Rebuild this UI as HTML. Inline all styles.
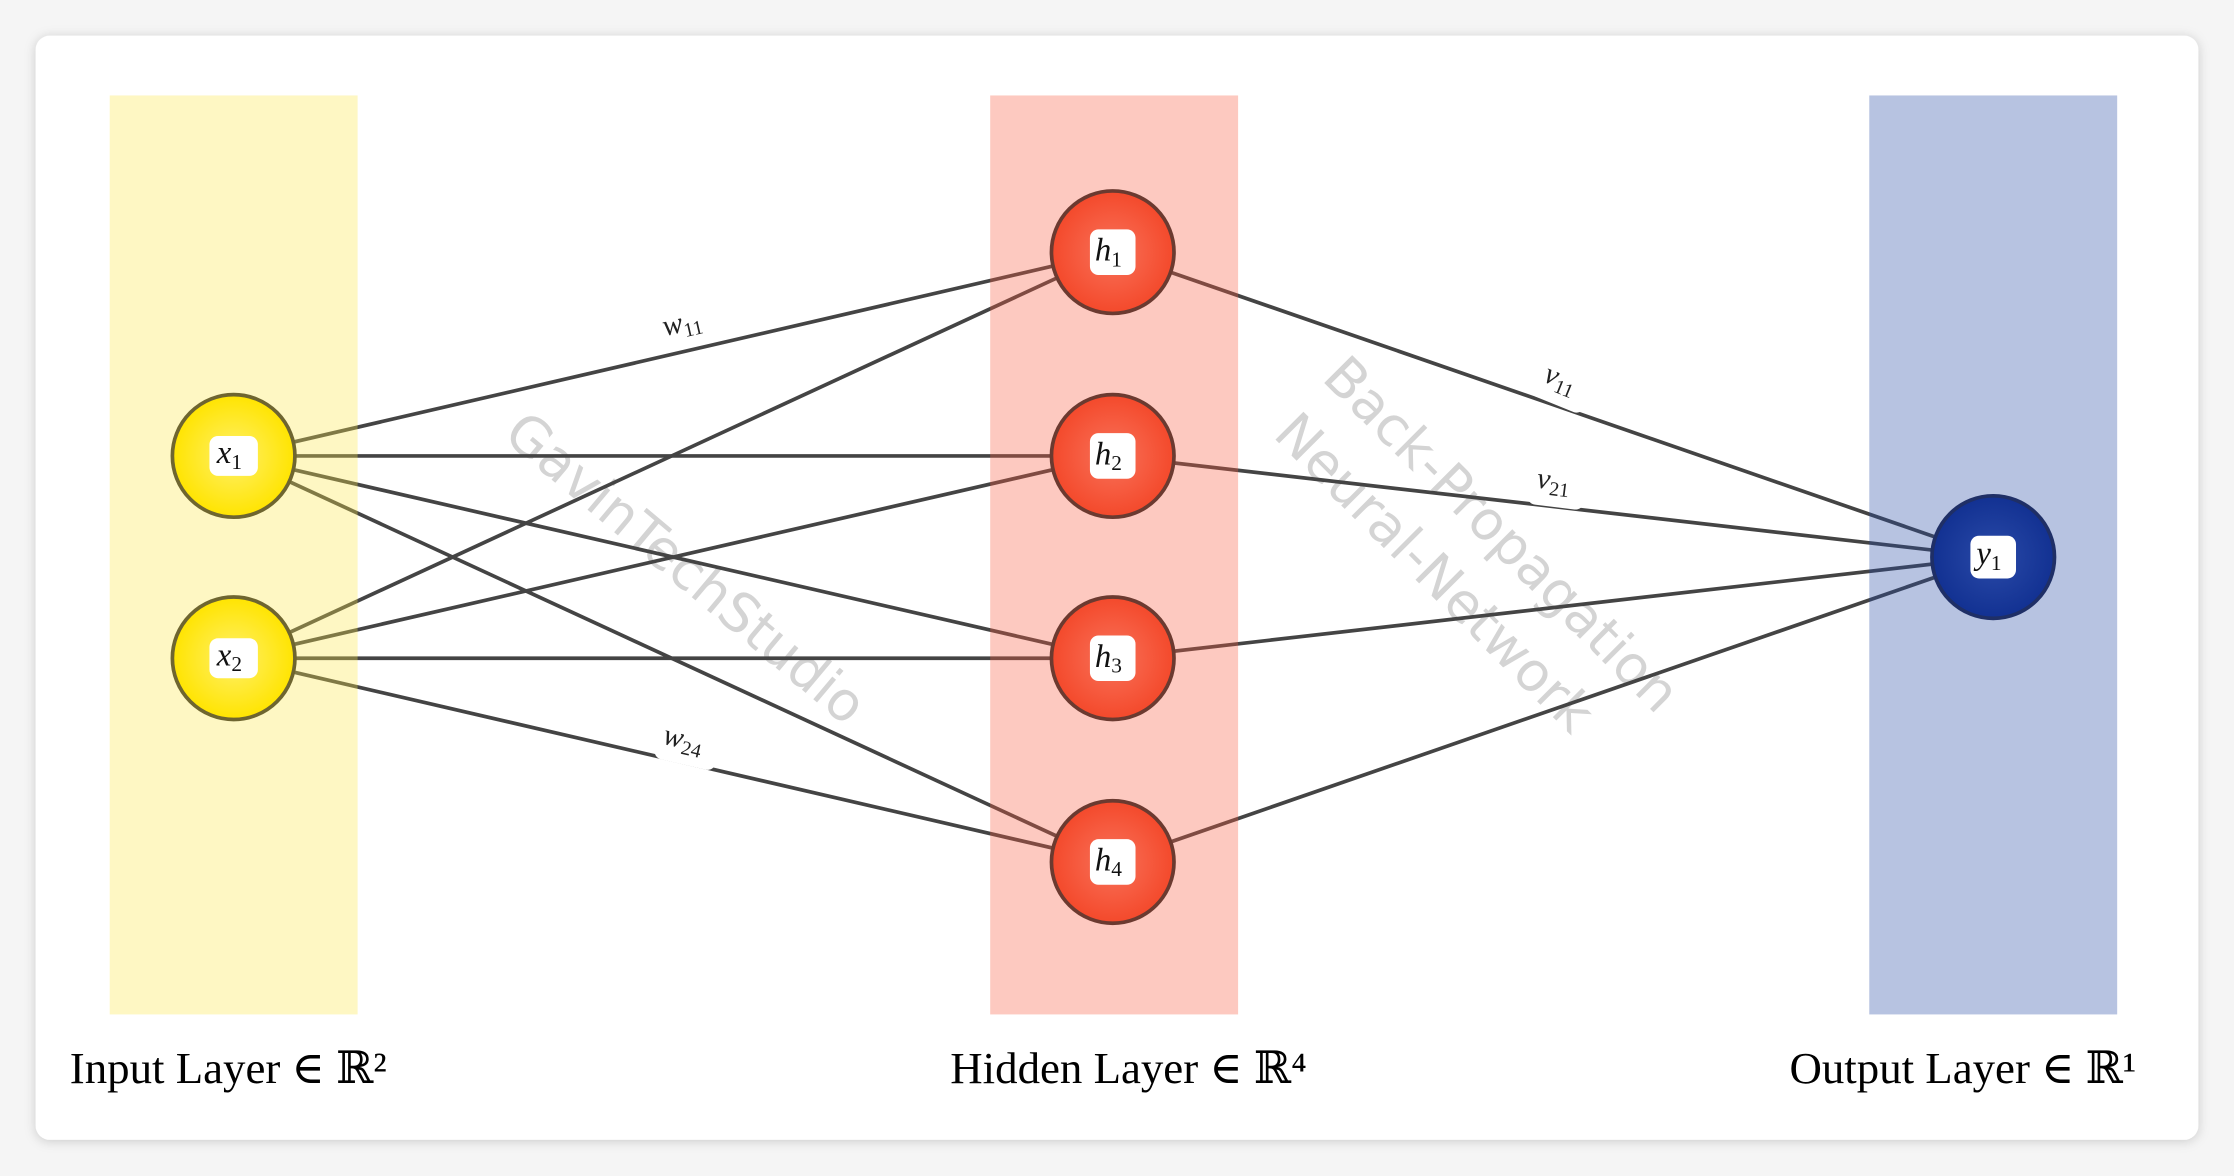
<!DOCTYPE html>
<html><head><meta charset="utf-8"><style>
html,body{margin:0;padding:0;background:#f5f5f5;}
svg{display:block;}
</style></head><body>
<svg width="2234" height="1176" viewBox="0 0 1568 825.4" preserveAspectRatio="none" xmlns="http://www.w3.org/2000/svg">
<defs>
<radialGradient id="gy" cx="50%" cy="50%" r="50%"><stop offset="0" stop-color="#fff06a"/><stop offset="1" stop-color="#ffe400"/></radialGradient>
<radialGradient id="gr" cx="50%" cy="50%" r="50%"><stop offset="0" stop-color="#f8725a"/><stop offset="1" stop-color="#f4492b"/></radialGradient>
<radialGradient id="gb" cx="50%" cy="50%" r="50%"><stop offset="0" stop-color="#2a4aa8"/><stop offset="1" stop-color="#123192"/></radialGradient>
<filter id="sh" x="-5%" y="-5%" width="110%" height="110%"><feDropShadow dx="0" dy="1" stdDeviation="4" flood-color="#000" flood-opacity="0.18"/></filter>
</defs>
<rect x="0" y="0" width="1568" height="825.4" fill="#f5f5f5"/>
<rect x="25" y="25" width="1518" height="775" rx="10" fill="#fff" filter="url(#sh)"/>
<g font-family="'DejaVu Sans','Liberation Sans',sans-serif" fill="#d4d4d4" font-size="38">
<text x="482" y="412" text-anchor="middle" transform="rotate(40 482 398)">GavinTechStudio</text>
<text x="1054" y="388" text-anchor="middle" transform="rotate(45 1054 375)">Back-Propagation</text>
<text x="1007" y="415" text-anchor="middle" transform="rotate(45 1007 402)">Neural-Network</text>
</g>
<g stroke="#444" stroke-width="2.6">
<line x1="164" y1="320" x2="781" y2="177"/>
<line x1="164" y1="320" x2="781" y2="320"/>
<line x1="164" y1="320" x2="781" y2="462"/>
<line x1="164" y1="320" x2="781" y2="605"/>
<line x1="164" y1="462" x2="781" y2="177"/>
<line x1="164" y1="462" x2="781" y2="320"/>
<line x1="164" y1="462" x2="781" y2="462"/>
<line x1="164" y1="462" x2="781" y2="605"/>
<line x1="781" y1="177" x2="1399" y2="391"/>
<line x1="781" y1="320" x2="1399" y2="391"/>
<line x1="781" y1="462" x2="1399" y2="391"/>
<line x1="781" y1="605" x2="1399" y2="391"/>
</g>
<rect x="77" y="67" width="174" height="645" fill="rgb(252,230,73)" fill-opacity="0.33"/>
<rect x="695" y="67" width="174" height="645" fill="rgb(250,91,64)" fill-opacity="0.33"/>
<rect x="1312" y="67" width="174" height="645" fill="rgb(37,73,164)" fill-opacity="0.33"/>
<g font-family="'Liberation Serif',serif" font-style="italic" font-size="21" fill="#222">
<g transform="translate(483,228) rotate(-13)"><rect x="-22" y="-15" width="44" height="30" rx="6" fill="#fff"/><text x="-4" y="4" text-anchor="middle">w<tspan font-style="normal" font-size="14" dy="4">11</tspan></text></g>
<g transform="translate(483,522) rotate(13)"><rect x="-22" y="-15" width="44" height="30" rx="6" fill="#fff"/><text x="-4" y="4" text-anchor="middle">w<tspan font-style="normal" font-size="14" dy="4">24</tspan></text></g>
<g transform="translate(1097,270) rotate(22)"><rect x="-20" y="-15" width="40" height="30" rx="6" fill="#fff"/><text x="-3" y="3" text-anchor="middle">v<tspan font-style="normal" font-size="14" dy="4">11</tspan></text></g>
<g transform="translate(1093,341) rotate(7)"><rect x="-20" y="-15" width="40" height="30" rx="6" fill="#fff"/><text x="-3" y="3" text-anchor="middle">v<tspan font-style="normal" font-size="14" dy="4">21</tspan></text></g>
</g>
<g stroke-width="2.6">
<circle cx="164" cy="320" r="43" fill="url(#gy)" stroke="#6e6530"/>
<circle cx="164" cy="462" r="43" fill="url(#gy)" stroke="#6e6530"/>
<circle cx="781" cy="177" r="43" fill="url(#gr)" stroke="#6b3a30"/>
<circle cx="781" cy="320" r="43" fill="url(#gr)" stroke="#6b3a30"/>
<circle cx="781" cy="462" r="43" fill="url(#gr)" stroke="#6b3a30"/>
<circle cx="781" cy="605" r="43" fill="url(#gr)" stroke="#6b3a30"/>
<circle cx="1399" cy="391" r="43" fill="url(#gb)" stroke="#1f2f66"/>
</g>
<g font-family="'Liberation Serif',serif" font-style="italic" font-size="23" fill="#111">
<g transform="translate(164,320)"><rect x="-17" y="-14" width="34" height="28" rx="6" fill="#fff"/><text x="-3" y="5" text-anchor="middle">x<tspan font-style="normal" font-size="15" dy="4">1</tspan></text></g>
<g transform="translate(164,462)"><rect x="-17" y="-14" width="34" height="28" rx="6" fill="#fff"/><text x="-3" y="5" text-anchor="middle">x<tspan font-style="normal" font-size="15" dy="4">2</tspan></text></g>
<g transform="translate(781,177)"><rect x="-16" y="-16" width="32" height="32" rx="6" fill="#fff"/><text x="-3" y="6" text-anchor="middle">h<tspan font-style="normal" font-size="15" dy="4">1</tspan></text></g>
<g transform="translate(781,320)"><rect x="-16" y="-16" width="32" height="32" rx="6" fill="#fff"/><text x="-3" y="6" text-anchor="middle">h<tspan font-style="normal" font-size="15" dy="4">2</tspan></text></g>
<g transform="translate(781,462)"><rect x="-16" y="-16" width="32" height="32" rx="6" fill="#fff"/><text x="-3" y="6" text-anchor="middle">h<tspan font-style="normal" font-size="15" dy="4">3</tspan></text></g>
<g transform="translate(781,605)"><rect x="-16" y="-16" width="32" height="32" rx="6" fill="#fff"/><text x="-3" y="6" text-anchor="middle">h<tspan font-style="normal" font-size="15" dy="4">4</tspan></text></g>
<g transform="translate(1399,391)"><rect x="-16" y="-15" width="32" height="30" rx="6" fill="#fff"/><text x="-3" y="5" text-anchor="middle">y<tspan font-style="normal" font-size="15" dy="4">1</tspan></text></g>
</g>
<g font-family="'Liberation Serif','DejaVu Serif',serif" font-size="31.5" fill="#000">
<text x="49" y="760">Input Layer ∈ ℝ²</text>
<text x="667" y="760">Hidden Layer ∈ ℝ⁴</text>
<text x="1256" y="760">Output Layer ∈ ℝ¹</text>
</g>
</svg>
</body></html>
